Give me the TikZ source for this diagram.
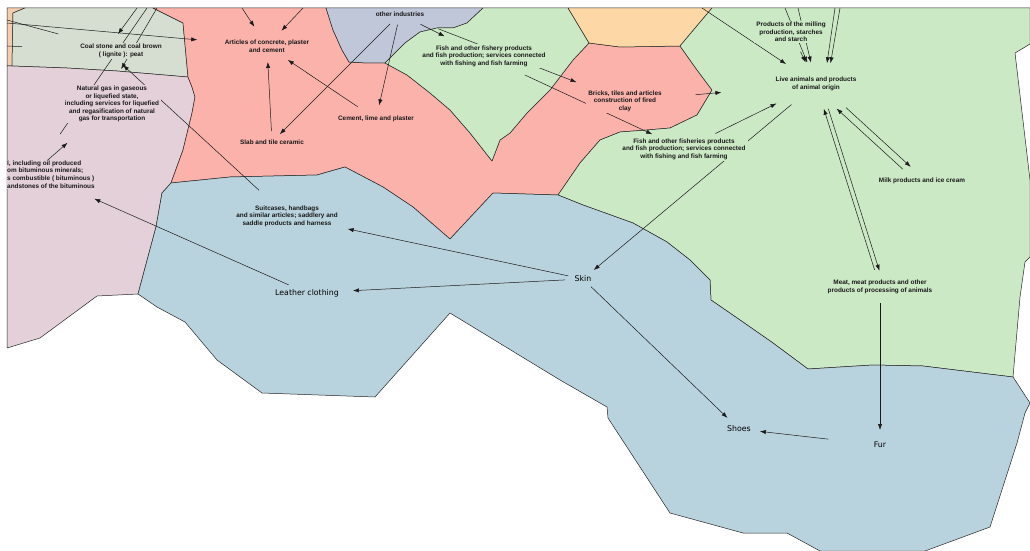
\documentclass[tikz,border=0pt]{standalone}
\usepackage{fontspec}
\usetikzlibrary{arrows.meta}
\newfontfamily\labfam{Liberation Sans}
\newfontfamily\bigfam{DejaVu Sans}
\definecolor{peachc}{HTML}{F4CDAF}
\definecolor{ggreen}{HTML}{D5DED0}
\definecolor{mauve}{HTML}{E3D0D9}
\definecolor{pinkc}{HTML}{FAB2AB}
\definecolor{gblue}{HTML}{C0C7D8}
\definecolor{lgreen}{HTML}{CCE9C6}
\definecolor{orangec}{HTML}{FDD7A5}
\definecolor{bluec}{HTML}{B9D3DE}
\pgfdeclarelayer{regions}
\pgfdeclarelayer{edges}
\pgfsetlayers{regions,edges,main}
\tikzset{pairshift/.style={transform canvas={shift={#1}}}}

\begin{document}
\begin{tikzpicture}[x=1pt,y=-1pt,
  region/.style={draw=black!85, line width=0.5pt, line join=round},
  lab/.style={font=\labfam\bfseries\fontsize{6.4}{7.6}\selectfont, align=center, text=black!90, inner xsep=2pt, inner ysep=1pt},
  big/.style={font=\bigfam\fontsize{7.8}{9}\selectfont, text=black, inner sep=1pt},
  ln/.style={draw=black!90, line width=0.5pt},
  arr/.style={ln, -{Latex[length=6pt,width=4.2pt]}}]
\useasboundingbox (0,0) rectangle (1030,551);
\begin{pgfonlayer}{regions}
\filldraw[region, fill=peachc] (7,8) -- (25,8) -- (13,13) -- (12,66) -- (7,66) -- cycle;
\filldraw[region, fill=ggreen] (25,8) -- (153,8) -- (183,23) -- (188,77) -- (117,71) -- (67,68) -- (12,66) -- (13,13) -- cycle;
\filldraw[region, fill=mauve] (7,66) -- (12,66) -- (67,68) -- (117,71) -- (188,77) -- (192,87) -- (195,97) -- (192,113) -- (183,150) -- (171,183) -- (162,193) -- (156,227) -- (138,294) -- (97,296) -- (40,338) -- (7,348) -- cycle;
\filldraw[region, fill=pinkc] (153,8) -- (326,8) -- (333,30) -- (342,50) -- (349,62) -- (367,63) -- (385,63) -- (407,75) -- (430,93) -- (450,110) -- (470,133) -- (492,161) -- (500,140) -- (510,133) -- (527,113) -- (550,90) -- (573,60) -- (589,43) -- (620,47) -- (680,46) -- (697,70) -- (712,90) -- (697,115) -- (670,128) -- (647,130) -- (620,132) -- (600,140) -- (580,163) -- (558,195) -- (493,193) -- (450,239) -- (413,207) -- (383,187) -- (345,167) -- (317,175) -- (230,177) -- (171,183) -- (183,150) -- (192,113) -- (195,97) -- (192,87) -- (188,77) -- (183,23) -- cycle;
\filldraw[region, fill=gblue] (326,8) -- (483,8) -- (467,23) -- (453,28) -- (437,28) -- (420,32) -- (405,43) -- (385,63) -- (367,63) -- (349,62) -- (342,50) -- (333,30) -- cycle;
\filldraw[region, fill=lgreen] (483,8) -- (568,8) -- (589,43) -- (573,60) -- (550,90) -- (527,113) -- (510,133) -- (500,140) -- (492,161) -- (470,133) -- (450,110) -- (430,93) -- (407,75) -- (385,63) -- (405,43) -- (420,32) -- (437,28) -- (453,28) -- (467,23) -- cycle;
\filldraw[region, fill=orangec] (568,8) -- (712,8) -- (680,46) -- (620,47) -- (589,43) -- cycle;
\filldraw[region, fill=lgreen] (712,8) -- (1030,8) -- (1030,44) -- (1015,53) -- (1030,180) -- (1030,257) -- (1025,262) -- (1020,297) -- (1013,377) -- (923,366) -- (873,365) -- (840,367) -- (808,369) -- (773,343) -- (740,320) -- (711,300) -- (710,280) -- (690,260) -- (667,242) -- (633,223) -- (583,205) -- (558,195) -- (580,163) -- (600,140) -- (620,132) -- (647,130) -- (670,128) -- (697,115) -- (712,90) -- (697,70) -- (680,46) -- cycle;
\filldraw[region, fill=bluec] (138,294) -- (156,227) -- (162,193) -- (171,183) -- (230,177) -- (317,175) -- (345,167) -- (383,187) -- (413,207) -- (450,239) -- (493,193) -- (558,195) -- (583,205) -- (633,223) -- (667,242) -- (690,260) -- (710,280) -- (711,300) -- (740,320) -- (773,343) -- (808,369) -- (840,367) -- (873,365) -- (923,366) -- (1013,377) -- (1030,403) -- (1025,413) -- (1017,443) -- (990,527) -- (925,551) -- (820,551) -- (787,533) -- (743,533) -- (670,513) -- (608,418) -- (607,407) -- (560,380) -- (450,313) -- (375,397) -- (262,393) -- (217,360) -- (185,322) -- (157,307) -- cycle;
\end{pgfonlayer}

\node[lab, fill=ggreen] (coal) at (121,51) {Coal stone and coal brown\\( lignite ): peat};
\node[lab, fill=pinkc] (concrete) at (267,46) {Articles of concrete, plaster\\and cement};
\node[lab, fill=mauve] (natgas) at (112,104) {Natural gas in gaseous\\or liquefied state,\\including services for liquefied\\and regasification of natural\\gas for transportation};
\node[lab, fill=mauve, anchor=west, align=left, inner xsep=0pt] (oil) at (7,174.5) {l, including oil produced\\om bituminous minerals;\\s combustible ( bituminous )\\andstones of the bituminous};
\node[lab, fill=pinkc] (slab) at (272,142) {Slab and tile ceramic};
\node[lab, fill=pinkc] (cement) at (376,119) {Cement, lime and plaster};
\node[lab, fill=gblue] (otherind) at (400,14) {other industries};
\node[lab, fill=lgreen] (fish1) at (484,56) {Fish and other fishery products\\and fish production; services connected\\with fishing and fish farming};
\node[lab, fill=pinkc] (bricks) at (625,101) {Bricks, tiles and articles\\construction of fired\\clay};
\node[lab, fill=lgreen] (fish2) at (684,149) {Fish and other fisheries products\\and fish production; services connected\\with fishing and fish farming};
\node[lab, fill=lgreen] (milling) at (791,32) {Products of the milling\\production, starches\\and starch};
\node[lab, fill=lgreen] (live) at (816,84) {Live animals and products\\of animal origin};
\node[lab, fill=lgreen] (milk) at (922,181) {Milk products and ice cream};
\node[lab, fill=lgreen] (meat) at (880,287) {Meat, meat products and other\\products of processing of animals};
\node[lab, fill=bluec] (suitcases) at (287,216) {Suitcases, handbags\\and similar articles; saddlery and\\saddle products and harness};
\node[big, fill=bluec] (clothing) at (307,293) {Leather clothing};
\node[big, fill=bluec] (skin) at (583,279) {Skin};
\node[big, fill=bluec] (shoes) at (739,429) {Shoes};
\node[big, fill=bluec] (fur) at (880,445) {Fur};
\coordinate (oilc) at (34,172);
\coordinate (w1) at (7,23);
\coordinate (w2) at (7,20);
\coordinate (w3) at (7,46);
\coordinate (t1) at (137,8);
\coordinate (t2) at (147,8);
\coordinate (t3) at (157,8);
\coordinate (t4) at (242,8);
\coordinate (t5) at (303,8);
\coordinate (t6) at (702,8);
\coordinate (t7) at (785,8);
\coordinate (t8) at (798,8);
\coordinate (t9) at (835,8);
\coordinate (t10) at (840,8);

\begin{pgfonlayer}{edges}
\draw[arr, shorten >=70pt] (w1) -- (concrete.center);
\draw[ln, shorten >=65pt] (w2) -- (coal.center);
\draw[ln, shorten >=99pt] (w3) -- (coal.center);
\draw[arr, shorten >=11pt] (t1) -- (coal.140);
\draw[ln, shorten >=46pt] (t2) -- (oilc);
\draw[arr, shorten >=18pt] (t3) -- (natgas.north);
\draw[arr, shorten <=38pt, shorten >=9pt] (suitcases.center) -- (coal.-120);
\draw[arr, shorten <=17pt, shorten >=59pt] (oilc) -- (natgas.center);
\draw[arr, shorten <=20pt, shorten >=66pt] (clothing.center) -- (oilc);
\draw[arr, shorten >=23pt] (t4) -- (concrete.center);
\draw[arr, shorten >=21pt] (t5) -- (concrete.center);
\draw[arr, shorten <=11pt, shorten >=16pt] (slab.center) -- (concrete.center);
\draw[arr, shorten <=22pt, shorten >=25pt] (cement.center) -- (concrete.center);
\draw[arr, shorten <=14pt, shorten >=11pt] (otherind.center) -- (slab.center);
\draw[arr, shorten <=11pt, shorten >=14pt] (otherind.center) -- (cement.center);
\draw[arr, shorten <=23pt, shorten >=44pt] (otherind.center) -- (fish1.center);
\draw[arr, shorten <=41pt, shorten >=52pt] (otherind.center) -- (bricks.center);
\draw[arr, shorten <=45pt, shorten >=35pt] (fish1.center) -- (fish2.center);
\draw[arr, shorten <=71pt, shorten >=95pt] (bricks.center) -- (live.center);
\draw[arr, shorten <=35pt, shorten >=44pt] (fish2.center) -- (live.center);
\draw[arr, shorten <=32pt, shorten >=14pt] (live.center) -- (skin.center);
\draw[arr, shorten >=36pt] (t6) -- (live.center);
\draw[arr, shorten >=23pt] (t7) -- (live.center);
\draw[arr, shorten >=22pt] (t8) -- (live.center);
\draw[arr, shorten <=22pt, shorten >=24pt] (milling.center) -- (live.center);
\draw[arr, shorten >=21pt] (t9) -- ([xshift=8pt]live.center);
\draw[arr, shorten >=21pt] (t10) -- ([xshift=11pt]live.center);
\draw[arr, shorten <=18pt, shorten >=26pt] (meat.center) -- (live.center);
\draw[arr, pairshift={(4.5pt,0pt)}, shorten <=26pt, shorten >=17pt] (live.center) -- (meat.center);
\draw[arr, pairshift={(-3pt,-3pt)}, shorten <=22pt, shorten >=32pt] (milk.center) -- (live.center);
\draw[arr, pairshift={(2pt,2pt)}, shorten <=38pt, shorten >=18pt] (live.center) -- (milk.center);
\draw[arr, shorten <=16pt, shorten >=15pt] (meat.center) -- (fur.center);
\draw[arr, shorten <=52pt, shorten >=21pt] (fur.center) -- (shoes.center);
\draw[arr, shorten <=11pt, shorten >=16pt] (skin.center) -- (shoes.center);
\draw[arr, shorten <=15pt, shorten >=62pt] (skin.center) -- (suitcases.center);
\draw[arr, shorten <=18pt, shorten >=46pt] (skin.center) -- (clothing.center);
\end{pgfonlayer}
\end{tikzpicture}
\end{document}
